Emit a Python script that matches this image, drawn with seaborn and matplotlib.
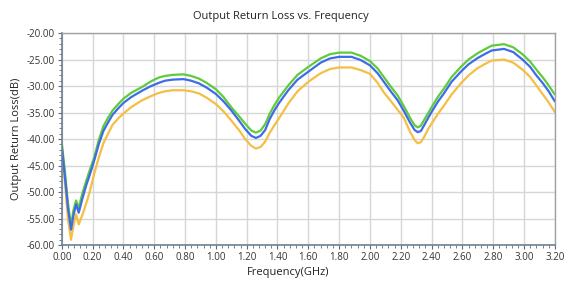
import matplotlib
matplotlib.use('Agg')
import matplotlib.pyplot as plt
from matplotlib.ticker import MultipleLocator, FormatStrFormatter
import seaborn as sns
import pandas as pd

# Frequency points (GHz) and return loss (dB) for the three traces
freq = [0.00, 0.02, 0.04, 0.06, 0.075, 0.093, 0.11, 0.135, 0.16, 0.18, 0.21, 0.24,
        0.27, 0.30, 0.33, 0.37, 0.40, 0.45, 0.52, 0.58, 0.63, 0.67, 0.72, 0.79,
        0.84, 0.89, 0.94, 1.00, 1.05, 1.10, 1.15, 1.19, 1.23, 1.26, 1.29, 1.32,
        1.35, 1.38, 1.41, 1.47, 1.53, 1.60, 1.68, 1.74, 1.80, 1.88, 1.94, 2.00,
        2.05, 2.09, 2.14, 2.18, 2.22, 2.26, 2.29, 2.31, 2.33, 2.35, 2.38, 2.40,
        2.44, 2.48, 2.53, 2.59, 2.64, 2.70, 2.75, 2.79, 2.87, 2.93, 2.99, 3.04,
        3.08, 3.12, 3.16, 3.20]

green = [-40.7, -46.0, -52.0, -56.5, -53.5, -51.6, -53.0, -50.1, -47.8, -46.0, -43.5, -40.2,
         -37.6, -36.0, -34.6, -33.3, -32.4, -31.3, -30.2, -29.1, -28.4, -28.1, -27.9, -27.8,
         -28.1, -28.6, -29.4, -30.6, -32.1, -34.0, -35.7, -37.1, -38.4, -38.8, -38.4, -37.2,
         -35.2, -33.6, -32.2, -29.9, -27.9, -26.4, -24.8, -24.0, -23.7, -23.7, -24.3, -25.3,
         -26.7, -28.3, -30.3, -31.8, -33.8, -36.0, -37.4, -37.8, -37.5, -36.5, -35.0, -34.0,
         -32.1, -30.5, -28.3, -26.4, -25.0, -23.8, -23.0, -22.4, -22.1, -22.7, -24.0, -25.4,
         -26.9, -28.3, -29.9, -31.6]

blue = [-41.5, -47.0, -53.0, -57.1, -54.5, -52.3, -53.9, -51.1, -48.6, -46.9, -44.1, -41.0,
        -38.5, -36.9, -35.4, -34.1, -33.2, -32.1, -30.9, -30.0, -29.4, -29.0, -28.8, -28.7,
        -29.0, -29.5, -30.3, -31.5, -32.9, -34.6, -36.5, -38.1, -39.4, -39.8, -39.4, -38.3,
        -36.2, -34.6, -33.2, -30.8, -28.8, -27.3, -25.6, -24.8, -24.5, -24.5, -25.1, -26.1,
        -27.6, -29.2, -31.2, -32.7, -34.7, -36.9, -38.3, -38.7, -38.5, -37.5, -35.9, -34.9,
        -33.0, -31.4, -29.2, -27.3, -25.9, -24.7, -23.9, -23.3, -23.0, -23.6, -25.0, -26.4,
        -28.0, -29.4, -31.0, -32.9]

orange = [-42.0, -48.0, -55.0, -59.0, -56.5, -54.2, -56.1, -54.2, -52.0, -50.1, -46.6, -43.5,
          -40.8, -39.0, -37.3, -36.0, -35.2, -34.0, -32.7, -31.9, -31.3, -31.0, -30.8, -30.8,
          -31.0, -31.4, -32.2, -33.4, -34.8, -36.5, -38.3, -40.0, -41.3, -41.8, -41.5, -40.5,
          -38.8, -37.4, -36.1, -33.3, -31.0, -29.2, -27.6, -26.8, -26.5, -26.5, -27.0, -27.7,
          -29.4, -31.2, -33.0, -34.5, -36.0, -38.6, -40.2, -40.8, -40.6, -39.7, -38.0, -37.1,
          -35.3, -33.7, -31.6, -29.5, -28.0, -26.6, -25.8, -25.2, -25.0, -25.6, -26.9, -28.3,
          -29.9, -31.5, -33.1, -34.9]

df = pd.DataFrame({'freq': freq, 'green': green, 'blue': blue, 'orange': orange})

sns.set_style('white')
plt.rcParams['font.family'] = ['Open Sans', 'DejaVu Sans']

fig = plt.figure(figsize=(5.72, 2.82), dpi=100)
ax = fig.add_axes([0.108, 0.131, 0.862, 0.752])

sns.lineplot(data=df, x='freq', y='orange', color='#F5BE45', lw=1.6, ax=ax)
sns.lineplot(data=df, x='freq', y='green', color='#5DCB3A', lw=1.6, ax=ax)
sns.lineplot(data=df, x='freq', y='blue', color='#3F6CE6', lw=1.6, ax=ax)

ax.set_xlim(0, 3.2)
ax.set_ylim(-60, -20)
ax.xaxis.set_major_locator(MultipleLocator(0.2))
ax.xaxis.set_minor_locator(MultipleLocator(0.04))
ax.yaxis.set_major_locator(MultipleLocator(5))
ax.yaxis.set_minor_locator(MultipleLocator(1))
ax.xaxis.set_major_formatter(FormatStrFormatter('%.2f'))
ax.yaxis.set_major_formatter(FormatStrFormatter('%.2f'))

ax.grid(True, which='major', color='#d6d6d6', lw=1)
ax.set_axisbelow(True)
ax.tick_params(which='major', length=3, width=0.8, color='#5a6a7a', labelsize=7, labelcolor='#333333', pad=2)
ax.tick_params(which='minor', length=2, width=0.6, color='#5a6a7a')
ax.tick_params(axis='x', which='both', bottom=True)
ax.tick_params(axis='y', which='both', left=True)

for side in ['top', 'right']:
    ax.spines[side].set_color('#a0a0a0')
    ax.spines[side].set_linewidth(1)
for side in ['left', 'bottom']:
    ax.spines[side].set_color('#6f8090')
    ax.spines[side].set_linewidth(1.2)

# title and x label sit at the figure centre, not the axes centre
ax.set_title('Output Return Loss vs. Frequency', fontsize=8, color='#222222', pad=10, x=0.445)
ax.set_xlabel('Frequency(GHz)', fontsize=8, color='#222222', labelpad=3, x=0.46)
ax.set_ylabel('Output Return Loss(dB)', fontsize=8, color='#222222', labelpad=3)

plt.savefig('out.png', dpi=100)
